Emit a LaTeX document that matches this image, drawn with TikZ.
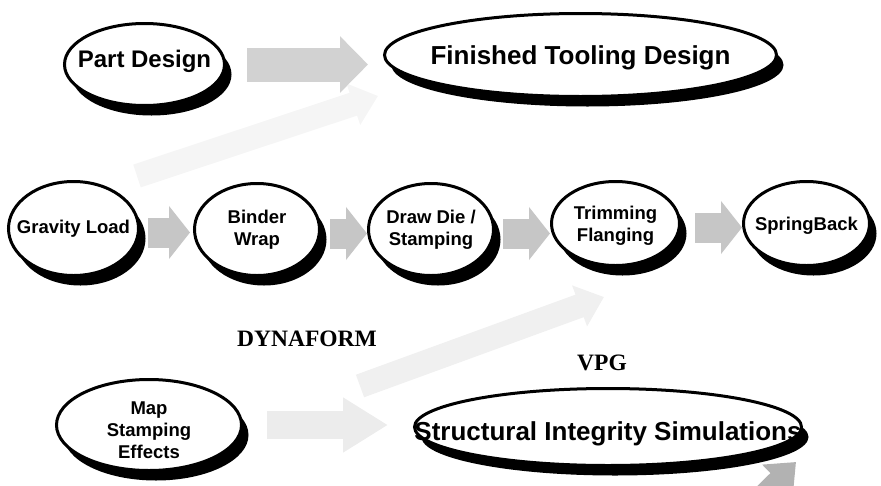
\documentclass[tikz,border=0pt]{standalone}
\usepackage{fontspec}
\setmainfont{Liberation Sans}
\newfontfamily\timesbf{Liberation Serif}
\usetikzlibrary{shapes.geometric,shadows,arrows.meta}

\begin{document}
\begin{tikzpicture}[x=1pt,y=-1pt,
	bubble/.style={ellipse,draw,line width=3pt,fill=white,inner sep=0pt,
		general shadow={fill=black,shadow xshift=7pt,shadow yshift=-10pt}},
	bubtext/.style={font=\bfseries\fontsize{18.5}{22}\selectfont,align=center},
	bigtext/.style={font=\bfseries\fontsize{26}{30}\selectfont},
	prog/.style={font=\timesbf\bfseries\fontsize{23.5}{28}\selectfont},
	blockarrow/.style={line width=30pt,draw=gray!45,
		-{Triangle[length=21pt,width=52pt]},shorten <=9pt,shorten >=1pt},
	faintarrow/.style={line width=24pt,draw=gray!8,
		-{Triangle[length=26pt,width=42pt]}}]
	\useasboundingbox (0,0) rectangle (881,485);
	\clip (0,0) rectangle (881,485);

	% faint links behind everything
	\coordinate (d1s) at (137,176);
	\coordinate (d1e) at (378,96);
	\coordinate (d2s) at (360,386);
	\coordinate (d2e) at (604,297);
	\coordinate (d3s) at (742,515);
	\coordinate (d3e) at (796,462);
	\draw[faintarrow] (d1s) -- (d1e);
	\draw[faintarrow,draw=gray!12] (d2s) -- (d2e);
	\draw[faintarrow,draw=gray!60,line width=20pt] (d3s) -- (d3e);

	% top row
	\node[bubble,minimum width=160pt,minimum height=82pt] (part) at (144.5,64.5) {};
	\node[bigtext,font=\bfseries\fontsize{24}{28}\selectfont] (partt) at ([yshift=3pt]part.center) {Part Design};
	\node[bubble,minimum width=392pt,minimum height=83pt] (ftd) at (580.5,55) {};
	\node[bigtext] (ftdt) at ([yshift=-3pt]ftd.center) {Finished Tooling Design};
	\draw[blockarrow,line width=34pt,draw=gray!35,-{Triangle[length=28pt,width=55pt]},
		shorten <=21pt,shorten >=15pt] (part.east) -- (part.east -| ftd.west);

	% DYNAFORM row
	\node[bubble,minimum width=130pt,minimum height=94pt] (grav) at (73.5,228.5) {};
	\node[bubtext] (gravt) at (grav) {Gravity Load};
	\node[bubble,minimum width=125pt,minimum height=92pt] (bind) at (257,229.5) {};
	\node[bubtext] (bindt) at (bind) {Binder\\Wrap};
	\node[bubble,minimum width=125pt,minimum height=92pt] (die) at (431,229.5) {};
	\node[bubtext] (diet) at (die) {Draw Die /\\Stamping};
	\node[bubble,minimum width=128pt,minimum height=84pt] (trim) at (615.5,223.5) {};
	\node[bubtext] (trimt) at ([yshift=-2pt]trim.center) {Trimming\\Flanging};
	\node[bubble,minimum width=126pt,minimum height=84pt] (spring) at (806.5,223.5) {};
	\node[bubtext] (springt) at ([yshift=-2pt]spring.center) {SpringBack};

	\begin{scope}[transform canvas={yshift=-4pt}]
		\draw[blockarrow,shorten <=8pt,shorten >=3pt] (grav.east) -- (grav.east -| bind.west);
		\draw[blockarrow,shorten >=0pt] (bind.east) -- (bind.east -| die.west);
		\draw[blockarrow,shorten <=8pt,shorten >=0pt] (die.east) -- (die.east -| trim.west);
		\draw[blockarrow,shorten <=14pt,shorten >=0pt] (trim.east) -- (trim.east -| spring.west);
	\end{scope}

	\node[prog] (dyna) at (307,338.5) {DYNAFORM};
	\node[prog] (vpg) at (602,363) {VPG};

	% VPG row
	\node[bubble,minimum width=185pt,minimum height=91pt] (map) at (149,425) {};
	\node[bubtext] (mapt) at ([yshift=-5pt]map.center) {Map\\Stamping\\Effects};
	\node[bubble,minimum width=387pt,minimum height=77pt] (sis) at (608,427) {};
	\node[bigtext] (sist) at ([yshift=-7pt]sis.center) {Structural Integrity Simulations};
	\draw[blockarrow,line width=28pt,draw=gray!15,-{Triangle[length=45pt,width=52pt]},
		shorten <=24pt,shorten >=25pt] (map.east) -- (map.east -| sis.west);
\end{tikzpicture}
\end{document}
